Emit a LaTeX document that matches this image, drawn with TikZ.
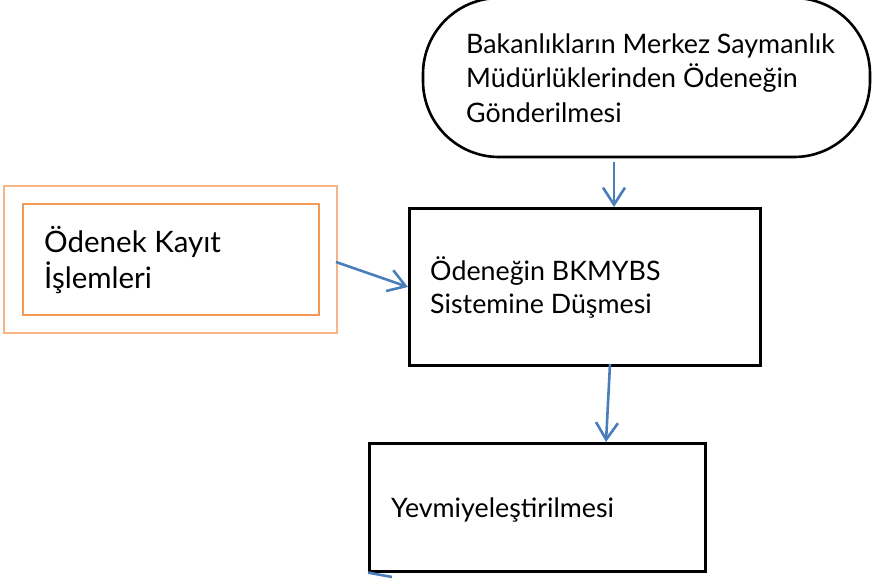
\documentclass[tikz,border=0pt]{standalone}
\usepackage{fontspec}
\setmainfont{Lato}
\usetikzlibrary{arrows.meta,calc}
\definecolor{arrowblue}{HTML}{4A7EBB}
\definecolor{orangeout}{HTML}{F6B587}
\definecolor{orangein}{HTML}{F29A55}
\tikzset{
  box/.style={draw=black, line width=2.6pt, minimum width=#1, inner sep=0pt},
  flow/.style={draw=arrowblue, line width=2.6pt, -{Straight Barb[length=17pt,width=22pt,line width=2.6pt]}},
  plainflow/.style={draw=arrowblue, line width=2.6pt},
  txt/.style={anchor=base west, inner sep=0pt, align=left},
}
\begin{document}
\begin{tikzpicture}[x=1pt,y=-1pt]
\useasboundingbox (0,0) rectangle (872,583);
\clip (0,0) rectangle (872,583);
% top terminal
\draw[line width=2.6pt, rounded corners=76pt] (423,-2) rectangle (870,157);
\node[inner sep=0pt, minimum width=447pt, minimum height=159pt, anchor=north west] (start) at (423,-2) {};
\node[txt, font=\fontsize{26.8}{34}\selectfont] (starttxt) at (466,122) {Bakanlıkların Merkez Saymanlık\\Müdürlüklerinden Ödeneğin\\Gönderilmesi};
% left double orange box
\node[draw=orangeout, line width=1.5pt, minimum width=333pt, minimum height=147pt, anchor=north west, inner sep=0pt] (outer) at (3,185) {};
\node[draw=orangein, line width=1.5pt, minimum width=296pt, minimum height=111pt, anchor=north west, inner sep=0pt] (inner) at (22,203) {};
\node[txt, font=\fontsize{29.5}{36}\selectfont] (lefttxt) at (44,288) {Ödenek Kayıt\\İşlemleri};
% middle box
\node[box=351pt, minimum height=157pt, anchor=north west] (mid) at (408,207) {};
\node[txt, font=\fontsize{26.8}{33}\selectfont] (midtxt) at (430,313) {Ödeneğin BKMYBS\\Sistemine Düşmesi};
% bottom box
\node[box=336pt, minimum height=128pt, anchor=north west] (bot) at (368,442) {};
\node[txt, font=\fontsize{26.8}{33}\selectfont] (bottxt) at (391,517) {Yevmiyeleştirilmesi};
% connectors
\coordinate (s1) at (614,162);
\draw[flow] (s1) -- (mid.north -| s1);
\coordinate (l1) at (336,262);
\draw[flow] (l1) -- ($(mid.north west)+(0,80)$);
\coordinate (m1) at (610,364);
\draw[flow] (m1) -- ($(bot.north west)+(238,0)$);
\coordinate (b1) at (392,577);
\draw[plainflow] (bot.south west) -- (b1);
\end{tikzpicture}
\end{document}
